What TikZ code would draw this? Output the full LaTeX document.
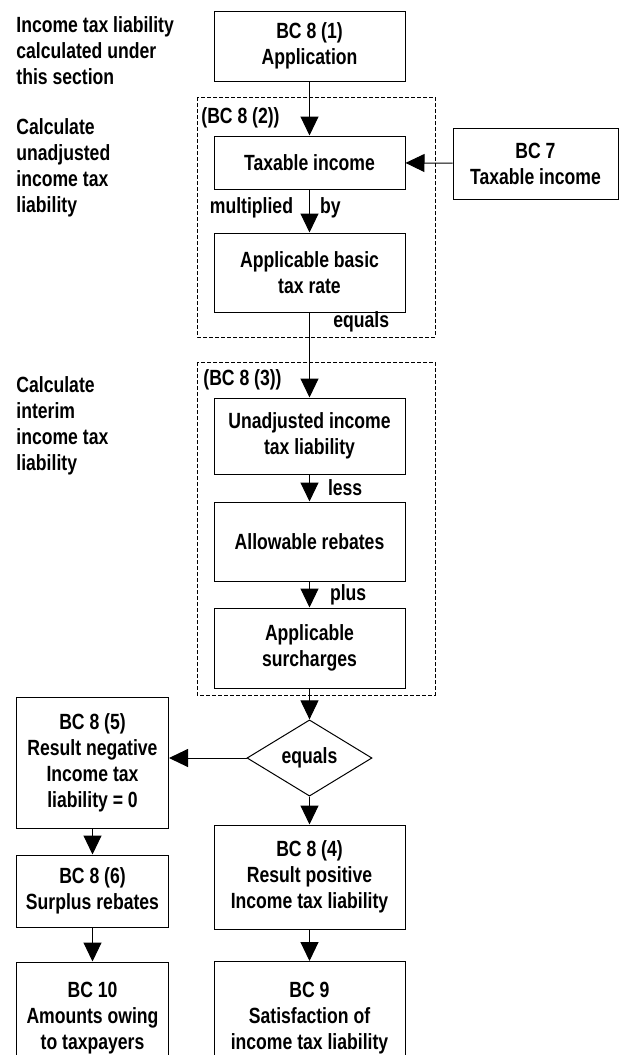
\documentclass[tikz,border=0pt]{standalone}
\usepackage{fontspec}
\setmainfont{Liberation Sans}[FakeStretch=0.8]
\usepackage{tikz}
\usetikzlibrary{shapes.geometric}
\usetikzlibrary{arrows.meta}
\tikzset{%
    block/.style={
        draw, line width=0.5pt, align=center, inner sep=0pt,
        minimum width=95.5pt,
        font=\bfseries\fontsize{11}{13}\selectfont
    }
}
\tikzset{sideblock/.style={block, minimum width=76pt}}
\tikzset{frame/.style={draw, line width=0.5pt, dash pattern=on 2pt off 1pt}}
\tikzset{flow/.style={line width=0.5pt, -{Triangle[length=9.5pt, width=9pt]}}}
\tikzset{note/.style={inner sep=0pt, align=left, font=\bfseries\fontsize{11}{13}\selectfont}}

\begin{document}
\begin{tikzpicture}[x=0.5pt, y=-0.5pt]
		\useasboundingbox (0,0) rectangle (619,1055);

		% dashed groups
		\draw[frame] (197,97) rectangle (435,337);
		\draw[frame] (197,362) rectangle (435,695);
		\node[note, anchor=west] (grouptwo) at (201,118) {(BC 8 (2))};
		\node[note, anchor=west] (groupthree) at (203,380) {(BC 8 (3))};

		% notes on the left
		\node[note, anchor=west] (scope) at (16,51) {Income tax liability\\calculated under\\this section};
		\node[note, anchor=west] (stepone) at (16,168) {Calculate\\unadjusted\\income tax\\liability};
		\node[note, anchor=west] (steptwo) at (16,425.5) {Calculate\\interim\\income tax\\liability};

		% main column
		\node[block, minimum height=35pt] (app) at (309.5,46) {BC 8 (1)\\Application};
		\node[block, minimum height=26.5pt] (taxinc) at (309.5,162.5) {Taxable income};
		\node[block, minimum width=82.5pt, minimum height=35.5pt] (bcseven) at (535.5,163.5) {BC 7\\Taxable income};
		\node[block, minimum height=39.5pt] (rate) at (309.5,272.5) {Applicable basic\\tax rate};
		\node[block, minimum height=38pt] (unadj) at (309.5,436) {Unadjusted income\\tax liability};
		\node[block, minimum height=39.5pt] (rebates) at (309.5,541.5) {Allowable rebates};
		\node[block, minimum height=40pt] (surch) at (309.5,648) {Applicable\\surcharges};
		\node[block, shape=diamond, minimum width=62.5pt, minimum height=38pt] (eq) at (309.5,758) {equals};
		\node[block, minimum height=52pt] (pos) at (309.5,877) {BC 8 (4)\\Result positive\\Income tax liability};
		\node[block, minimum height=56.5pt] (bcnine) at (309.5,1018) {BC 9\\Satisfaction of\\income tax liability};

		% left column
		\node[sideblock, minimum height=65.5pt] (neg) at (92.5,762.5) {BC 8 (5)\\Result negative\\Income tax\\liability = 0};
		\node[sideblock, minimum height=36pt] (surplus) at (92.5,891) {BC 8 (6)\\Surplus rebates};
		\node[sideblock, minimum height=56pt] (bcten) at (92.5,1018) {BC 10\\Amounts owing\\to taxpayers};

		% connectors
		\draw[flow] (app) -- (taxinc);
		\draw[flow] (bcseven) -- (taxinc);
		\draw[flow] (taxinc) -- node[note, pos=0.42, left=8pt] (times) {multiplied} node[note, pos=0.42, right=5pt] (by) {by} (rate);
		\draw[flow] (rate) -- (unadj);
		\node[note, anchor=west] (equalsone) at (333,322) {equals};
		\draw[flow] (unadj) -- node[note, right=9pt] (less) {less} (rebates);
		\draw[flow] (rebates) -- node[note, right=10pt] (plus) {plus} (surch);
		\draw[flow] (surch) -- (eq);
		\draw[flow] (eq.west) -- (eq.west -| neg.east);
		\draw[flow] (eq) -- (pos);
		\draw[flow] (pos) -- (bcnine);
		\draw[flow] (neg) -- (surplus);
		\draw[flow] (surplus) -- (bcten);

	\end{tikzpicture}
\end{document}
